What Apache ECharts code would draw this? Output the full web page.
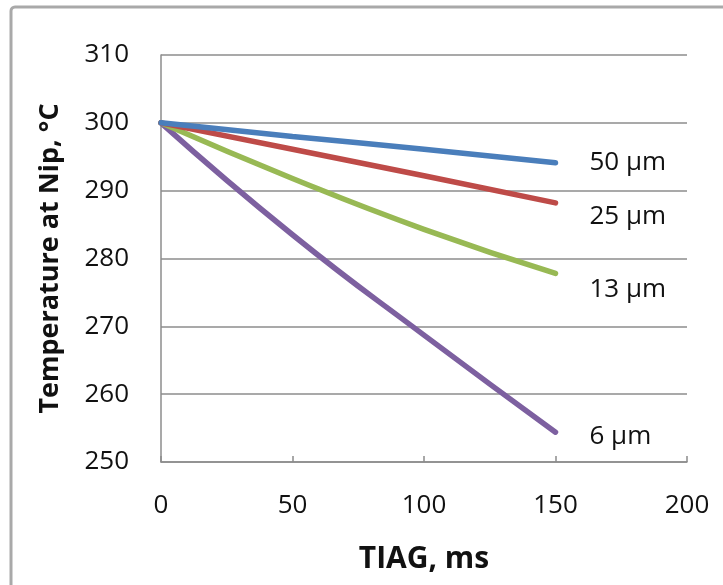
<!DOCTYPE html>
<html>
<head>
<meta charset="utf-8">
<style>
  html, body { margin: 0; padding: 0; background: #fff; }
  #chart { width: 723px; height: 585px; }
</style>
<script src="https://cdn.jsdelivr.net/npm/echarts@6/dist/echarts.min.js"></script>
</head>
<body>
<div id="chart"></div>
<script>
// Time in gap (ms) and nip temperature (°C) for several film thicknesses
const tiag = [0, 50, 100, 150];
const temp50um = [300, 298.0, 296.1, 294.1];
const temp25um = [300, 296.1, 292.2, 288.2];
const temp13um = [300, 291.8, 284.3, 277.8];
const temp6um  = [300, 283.5, 268.7, 254.4];
const seriesNames = ['50 µm', '25 µm', '13 µm', '6 µm'];
const seriesColors = ['#4a7ebb', '#be4b48', '#98b954', '#7d60a0'];
const labelOffsets = [[34, 0], [34, 14], [34, 16], [34, 4]];
const xTicks = { min: 0, max: 200, interval: 50 };
const yTicks = { min: 250, max: 310, interval: 10 };

const fontFamily = '"Open Sans", Lato, sans-serif';
const gridColor = '#8c8c8c';
const textColor = '#111111';

function pairs(values) {
  return tiag.map((t, i) => [t, values[i]]);
}

const allValues = [temp50um, temp25um, temp13um, temp6um];

const chart = echarts.init(document.getElementById('chart'), null, { renderer: 'canvas' });
chart.setOption({
  animation: false,
  backgroundColor: '#ffffff',
  graphic: [{
    type: 'rect',
    shape: { x: 11, y: 7, width: 800, height: 700, r: 4 },
    style: { fill: 'none', stroke: '#a9a9a9', lineWidth: 3 },
    silent: true
  }],
  grid: { left: 161, right: 36, top: 55, bottom: 123, containLabel: false },
  xAxis: {
    type: 'value',
    min: xTicks.min, max: xTicks.max, interval: xTicks.interval,
    name: 'TIAG, ms',
    nameLocation: 'middle',
    nameGap: 82,
    nameTextStyle: { fontFamily, fontSize: 30, fontWeight: 'bold', color: textColor },
    axisLine: { show: true, lineStyle: { color: gridColor, width: 1.5 } },
    axisTick: { show: true, inside: true, length: 6, lineStyle: { color: gridColor, width: 1.5 } },
    axisLabel: { fontFamily, fontSize: 26, color: textColor, margin: 31 },
    splitLine: { show: false }
  },
  yAxis: {
    type: 'value',
    min: yTicks.min, max: yTicks.max, interval: yTicks.interval,
    name: 'Temperature at Nip, °C',
    nameLocation: 'middle',
    nameGap: 97,
    nameRotate: 90,
    nameTextStyle: { fontFamily, fontSize: 27, fontWeight: 'bold', color: textColor },
    axisLine: { show: true, lineStyle: { color: gridColor, width: 1.5 } },
    axisTick: { show: false },
    axisLabel: { fontFamily, fontSize: 26, color: textColor, margin: 32 },
    splitLine: { show: true, lineStyle: { color: gridColor, width: 1.5 } }
  },
  series: allValues.map((vals, i) => ({
    type: 'line',
    name: seriesNames[i],
    data: pairs(vals),
    smooth: true,
    showSymbol: false,
    symbol: 'none',
    lineStyle: { color: seriesColors[i], width: 5.5, cap: 'round' },
    itemStyle: { color: seriesColors[i] },
    z: 10 - i,
    endLabel: {
      show: true,
      formatter: seriesNames[i],
      fontFamily,
      fontSize: 26,
      color: textColor,
      distance: 0,
      offset: labelOffsets[i]
    }
  }))
});
</script>
</body>
</html>
